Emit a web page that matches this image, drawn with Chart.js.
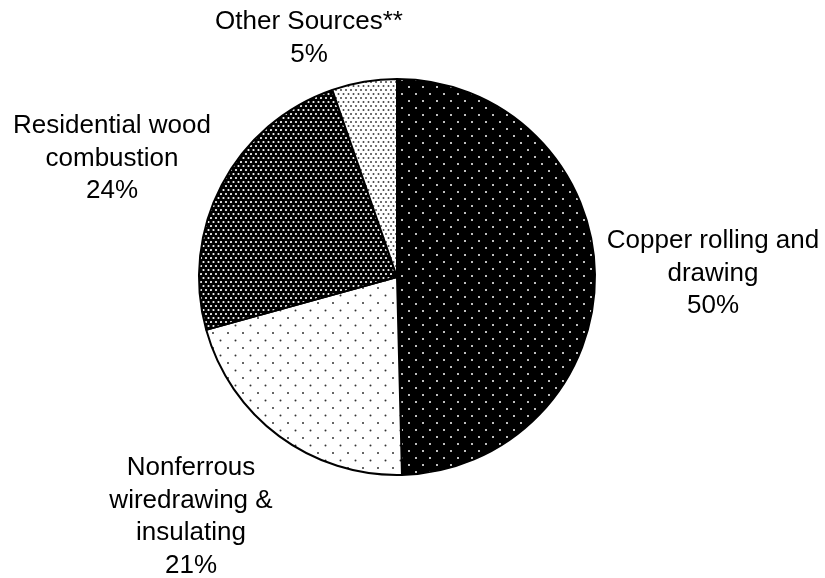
<!DOCTYPE html>
<html>
<head>
<meta charset="utf-8">
<script src="https://cdn.jsdelivr.net/npm/chart.js@4/dist/chart.umd.min.js"></script>
<style>
  html, body { margin: 0; padding: 0; background: #fff; }
  #wrap { width: 825px; height: 578px; }
</style>
</head>
<body>
<div id="wrap"><canvas id="c" width="825" height="578"></canvas></div>
<script>
// ---- data ----
const categories = ["Copper rolling and drawing", "Nonferrous wiredrawing & insulating", "Residential wood combustion", "Other Sources**"];
const labelLines = [
  ["Copper rolling and", "drawing", "50%"],
  ["Nonferrous", "wiredrawing &", "insulating", "21%"],
  ["Residential wood", "combustion", "24%"],
  ["Other Sources**", "5%"]
];
const shares = [49.6, 21.1, 24.0, 5.3];

// ---- layout (label anchor: centre x, first baseline y) ----
const labelLayout = [
  { x: 713, y: 248 },
  { x: 191, y: 475 },
  { x: 112, y: 133 },
  { x: 309, y: 29 }
];
const lineHeight = 32.5;

function makePattern(bg, fg, w, h, dots, r) {
  const cv = document.createElement('canvas');
  cv.width = w; cv.height = h;
  const g = cv.getContext('2d');
  g.fillStyle = bg; g.fillRect(0, 0, w, h);
  g.fillStyle = fg;
  dots.forEach(([x, y]) => { g.beginPath(); g.arc(x, y, r, 0, Math.PI * 2); g.fill(); });
  return document.getElementById('c').getContext('2d').createPattern(cv, 'repeat');
}

const fills = [
  makePattern('#000', '#fff', 14, 14, [[3, 3], [10, 10]], 1.0),
  makePattern('#fff', '#333', 15, 15, [[3, 3], [10.5, 10.5]], 1.0),
  makePattern('#000', '#fff', 10, 8, [[1, 2], [6, 2], [3.5, 6], [8.5, 6]], 1.1),
  makePattern('#fff', '#444', 10, 8, [[1, 2], [6, 2], [3.5, 6], [8.5, 6]], 1.0)
];

const labelPlugin = {
  id: 'outLabels',
  afterDraw(chart) {
    const ctx = chart.ctx;
    ctx.save();
    ctx.fillStyle = '#000';
    ctx.font = '26px "Liberation Sans", Arial, sans-serif';
    ctx.textAlign = 'center';
    ctx.textBaseline = 'alphabetic';
    labelLines.forEach((lines, i) => {
      const p = labelLayout[i];
      lines.forEach((t, k) => ctx.fillText(t, p.x, p.y + k * lineHeight));
    });
    ctx.restore();
  }
};

new Chart(document.getElementById('c'), {
  type: 'pie',
  data: {
    labels: categories,
    datasets: [{
      data: shares,
      backgroundColor: fills,
      borderColor: '#000',
      borderWidth: 2,
      radius: 198
    }]
  },
  options: {
    responsive: false,
    animation: false,
    layout: { padding: { top: 79, bottom: 103, left: 0, right: 31 } },
    plugins: { legend: { display: false }, tooltip: { enabled: false } }
  },
  plugins: [labelPlugin]
});
</script>
</body>
</html>
